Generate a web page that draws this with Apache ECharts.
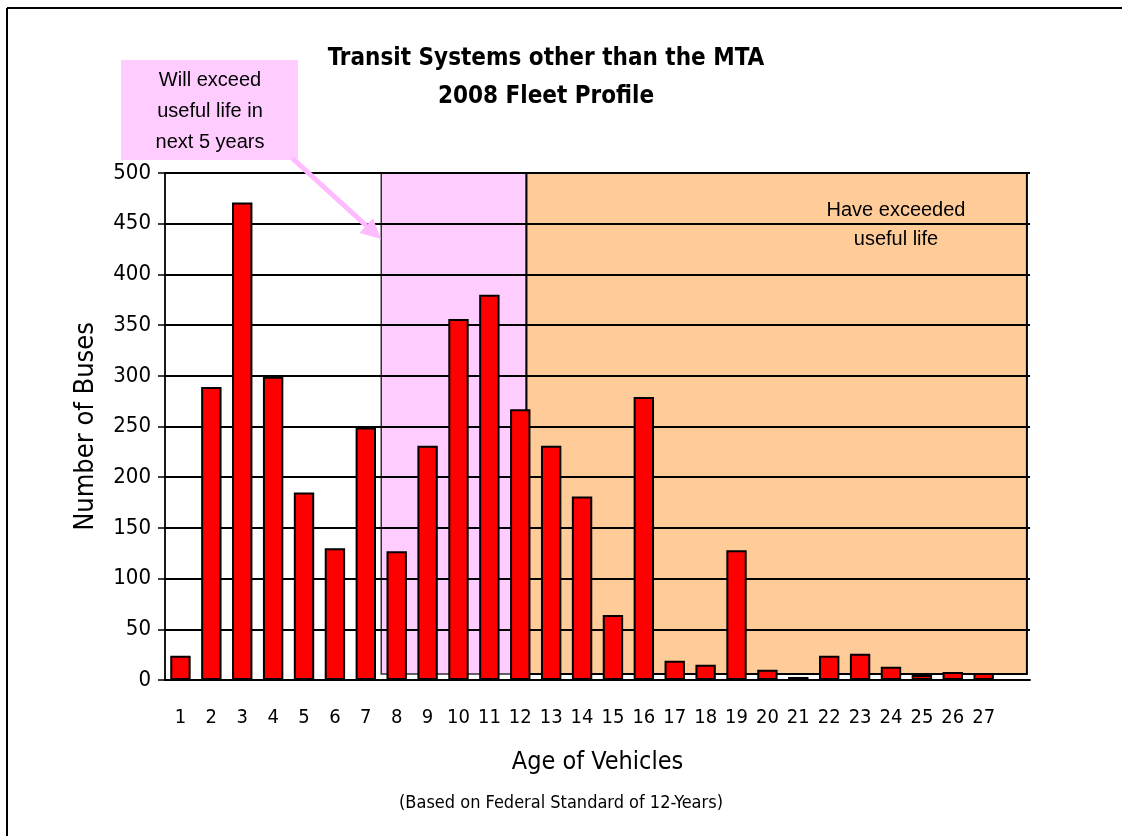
<!DOCTYPE html>
<html>
<head>
<meta charset="utf-8">
<script src="https://cdn.jsdelivr.net/npm/echarts@6/dist/echarts.min.js"></script>
<style>
html,body{margin:0;padding:0;background:#fff;}
#chart{width:1122px;height:836px;}
</style>
</head>
<body>
<div id="chart"></div>
<script>
// ---- data ----
const ages = ['1','2','3','4','5','6','7','8','9','10','11','12','13','14','15','16','17','18','19','20','21','22','23','24','25','26','27',''];
const buses = [24, 289, 471, 299, 185, 130, 249, 127, 231, 356, 380, 267, 231, 181, 64, 279, 19, 15, 128, 10, 3, 24, 26, 13, 5, 8, 7, null];
const yTicks = { min: 0, max: 500, interval: 50 };
// shaded zones in category-slot units (0..28) and value units
const willExceedZone = { x0: 7, x1: 11.7, y0: 6, y1: 500 };
const exceededZone = { x0: 11.7, x1: 27.9, y0: 6, y1: 500 };

const NARROW = '"Liberation Sans Narrow", "DejaVu Sans Condensed", "Arial Narrow", sans-serif';
const REG = '"Liberation Sans", Arial, sans-serif';

const chart = echarts.init(document.getElementById('chart'), null, {renderer: 'canvas'});

// arrow geometry (annotation)
const tip = [381, 239], start = [292, 158];
const dx = tip[0]-start[0], dy = tip[1]-start[1];
const len = Math.sqrt(dx*dx+dy*dy);
const ux = dx/len, uy = dy/len, nx = -uy, ny = ux;
const hl = 20, hw = 10;
const base = [tip[0]-hl*ux, tip[1]-hl*uy];

const option = {
  backgroundColor: '#ffffff',
  animation: false,
  title: {
    text: 'Transit Systems other than the MTA\n2008 Fleet Profile',
    left: 541, top: 35, textAlign: 'center',
    textStyle: { fontFamily: NARROW, fontWeight: 'bold', fontSize: 24, color: '#000', lineHeight: 38 }
  },
  grid: { left: 165, right: 92, top: 173, bottom: 156, containLabel: false },
  xAxis: [{
    type: 'category',
    data: ages,
    z: 3,
    axisLine: { lineStyle: { color: '#000', width: 1.8 } },
    axisTick: { alignWithLabel: false, interval: 0, length: 7, lineStyle: { color: '#000', width: 1.5 } },
    axisLabel: { interval: 0, color: '#000', fontFamily: NARROW, fontSize: 20, margin: 28 },
    name: 'Age of Vehicles',
    nameLocation: 'middle',
    nameGap: 70,
    nameTextStyle: { fontFamily: NARROW, fontSize: 25, color: '#000' }
  }, {
    type: 'value', min: 0, max: 28, show: false
  }],
  yAxis: [{
    type: 'value',
    min: yTicks.min, max: yTicks.max, interval: yTicks.interval,
    z: 3,
    axisLine: { show: true, lineStyle: { color: '#000', width: 1.8 } },
    axisTick: { show: true, length: 7, lineStyle: { color: '#000', width: 1.5 } },
    axisLabel: { color: '#000', fontFamily: NARROW, fontSize: 22, margin: 14 },
    splitLine: { show: true, lineStyle: { color: '#000', width: 2 } },
    name: 'Number of Buses',
    nameLocation: 'middle',
    nameGap: 66,
    nameTextStyle: { fontFamily: NARROW, fontSize: 27, color: '#000' }
  }],
  series: [{
    type: 'line',
    xAxisIndex: 1,
    yAxisIndex: 0,
    data: [],
    z: 1,
    silent: true,
    markArea: {
      silent: true,
      data: [
        [{ coord: [willExceedZone.x0, willExceedZone.y0], itemStyle: { color: '#FFCCFF', borderColor: '#333', borderWidth: 1.5 } },
         { coord: [willExceedZone.x1, willExceedZone.y1] }],
        [{ coord: [exceededZone.x0, exceededZone.y0], itemStyle: { color: '#FFCC99', borderColor: '#000', borderWidth: 2 } },
         { coord: [exceededZone.x1, exceededZone.y1] }]
      ]
    }
  }, {
    type: 'bar',
    data: buses,
    z: 5,
    barCategoryGap: '34%',
    itemStyle: { color: '#FF0000', borderColor: '#000', borderWidth: 2 }
  }],
  graphic: [
    { type: 'line', shape: { x1: 7, y1: 8, x2: 1122, y2: 8 }, style: { stroke: '#000', lineWidth: 2 } },
    { type: 'line', shape: { x1: 7, y1: 8, x2: 7, y2: 836 }, style: { stroke: '#000', lineWidth: 2 } },
    { type: 'rect', shape: { x: 121, y: 60, width: 177, height: 100 }, style: { fill: '#FFCCFF' }, z: 10 },
    { type: 'text', x: 210, y: 65, z: 11,
      style: { text: 'Will exceed\nuseful life in\nnext 5 years', fontFamily: REG, fontSize: 20, lineHeight: 31, fill: '#000', align: 'center', verticalAlign: 'top' } },
    { type: 'line', z: 10, shape: { x1: start[0], y1: start[1], x2: base[0], y2: base[1] }, style: { stroke: '#FFBBFF', lineWidth: 5 } },
    { type: 'polygon', z: 10, shape: { points: [tip, [base[0]+hw*nx, base[1]+hw*ny], [base[0]-hw*nx, base[1]-hw*ny]] }, style: { fill: '#FFBBFF' } },
    { type: 'text', x: 896, y: 196, z: 11,
      style: { text: 'Have exceeded\nuseful life', fontFamily: REG, fontSize: 20, lineHeight: 29, fill: '#000', align: 'center', verticalAlign: 'top' } },
    { type: 'text', x: 561, y: 803, z: 11,
      style: { text: '(Based on Federal Standard of 12-Years)', fontFamily: NARROW, fontSize: 18, fill: '#000', align: 'center', verticalAlign: 'middle' } }
  ]
};
chart.setOption(option);
</script>
</body>
</html>
